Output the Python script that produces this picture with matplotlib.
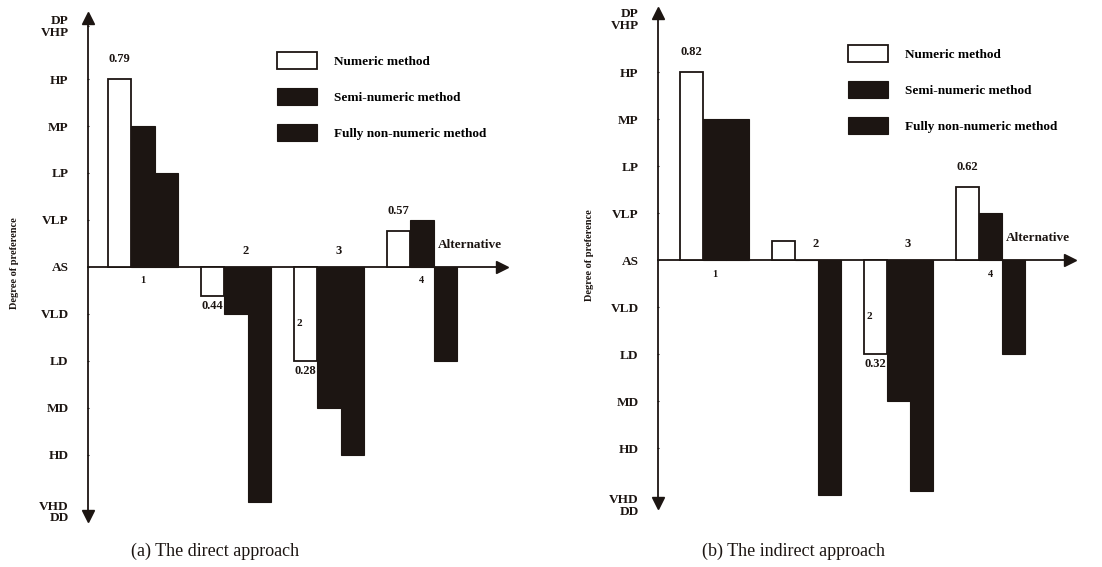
import matplotlib.pyplot as plt
import numpy as np

# Linguistic preference scale, AS (indifference) at zero
level_values = [-5.2, -4, -3, -2, -1, 0, 1, 2, 3, 4, 5.13]
level_labels = ['VHD\nDD', 'HD', 'MD', 'LD', 'VLD', 'AS', 'VLP', 'LP', 'MP', 'HP', 'DP\nVHP']

alternatives = [1, 2, 3, 4]
series_names = ['Numeric method', 'Semi-numeric method', 'Fully non-numeric method']

# (a) direct approach
direct_numeric = [4.0, -0.62, -2.0, 0.77]
direct_semi = [3.0, -1.0, -3.0, 1.0]
direct_fully = [2.0, -5.0, -4.0, -2.0]
direct_value_labels = ['0.79', '0.44', '0.28', '0.57']

# (b) indirect approach
indirect_numeric = [4.0, 0.4, -2.0, 1.55]
indirect_semi = [3.0, 0.0, -3.0, 1.0]
indirect_fully = [3.0, -5.0, -4.9, -2.0]
indirect_value_labels = ['0.82', '', '0.32', '0.62']

alt_label_side = ['below', 'above', 'above', 'below']

W, H = 1102, 567
SERIF = 'Liberation Serif'
INK = '#1c1512'


def px_axes(fig, x0, y0, x1, y1):
    return fig.add_axes([x0 / W, 1 - y1 / H, (x1 - x0) / W, (y1 - y0) / H])


def draw_panel(ax, numeric, semi, fully, value_labels, xlim, ylim, yaxis_x, arrow_y, legend_xy):
    x = np.array(alternatives, dtype=float)
    width = 0.25
    ax.bar(x - width, numeric, width, color='white', edgecolor=INK, linewidth=1.3,
           label=series_names[0], zorder=3)
    ax.bar(x, semi, width, color=INK, edgecolor=INK, linewidth=0.8,
           label=series_names[1], zorder=3)
    ax.bar(x + width, fully, width, color=INK, edgecolor=INK, linewidth=0.8,
           label=series_names[2], zorder=3)

    ax.set_xlim(*xlim)
    ax.set_ylim(*ylim)
    for side in ['top', 'right']:
        ax.spines[side].set_visible(False)
    ax.spines['left'].set_position(('data', yaxis_x))
    ax.spines['left'].set_bounds(-arrow_y[0], arrow_y[1])
    ax.spines['bottom'].set_position(('data', 0))
    ax.spines['bottom'].set_bounds(yaxis_x, 4.86)
    for side in ['left', 'bottom']:
        ax.spines[side].set_linewidth(1.3)
        ax.spines[side].set_color(INK)

    # arrow heads on both axes
    ax.plot([yaxis_x], [arrow_y[1]], marker='^', ms=8, color=INK, clip_on=False, zorder=4)
    ax.plot([yaxis_x], [-arrow_y[0]], marker='v', ms=8, color=INK, clip_on=False, zorder=4)
    ax.plot([4.86], [0], marker='>', ms=8, color=INK, clip_on=False, zorder=4)

    ax.set_xticks([])
    ax.set_yticks(level_values, level_labels)
    ax.tick_params(axis='y', length=2, direction='inout', pad=13, colors=INK)
    for t in ax.get_yticklabels():
        t.set_fontfamily(SERIF)
        t.set_fontweight('bold')
        t.set_fontsize(9.5)
        t.set_linespacing(0.95)

    ax.text(4.86, 0.35, 'Alternative', ha='right', va='bottom', fontsize=9.5,
            fontweight='bold', family=SERIF, color=INK)

    # alternative numbers on the side opposite the bars
    for xi, side in zip(x, alt_label_side):
        if side == 'below':
            ax.text(xi, -0.2, str(int(xi)), ha='center', va='top', fontsize=7.5,
                    fontweight='bold', family=SERIF, color=INK)
        else:
            ax.text(xi + 0.1, 0.22, str(int(xi)), ha='center', va='bottom', fontsize=9,
                    fontweight='bold', family=SERIF, color=INK)

    # numeric method values
    for xi, v, lab in zip(x, numeric, value_labels):
        if not lab:
            continue
        if v >= 0:
            ax.annotate(lab, (xi - width, v), xytext=(0, 10), textcoords='offset points',
                        ha='center', va='bottom', fontsize=9, fontweight='bold',
                        family=SERIF, color=INK)
        else:
            ax.annotate(lab, (xi - width, v), xytext=(0, -3), textcoords='offset points',
                        ha='center', va='top', fontsize=9, fontweight='bold',
                        family=SERIF, color=INK)
    # stray mark inside the third numeric bar
    ax.text(x[2] - width - 0.1, numeric[2] * 0.6, '2', ha='left', va='center', fontsize=8,
            fontweight='bold', family=SERIF, color=INK, zorder=4)

    ax.legend(loc='upper left', bbox_to_anchor=legend_xy, bbox_transform=ax.figure.transFigure,
              frameon=False, borderpad=0, borderaxespad=0, handlelength=3.0, handleheight=1.6,
              labelspacing=1.45, handletextpad=1.3,
              prop={'family': SERIF, 'weight': 'bold', 'size': 9.5})


fig = plt.figure(figsize=(W / 100, H / 100), dpi=100)

ax_a = px_axes(fig, 70, 10, 520, 530)
draw_panel(ax_a, direct_numeric, direct_semi, direct_fully, direct_value_labels,
           xlim=(0.215, 5.054), ylim=(-5.6, 5.47), yaxis_x=0.41, arrow_y=(5.3, 5.3),
           legend_xy=(277 / W, 1 - 52 / H))

ax_b = px_axes(fig, 640, 10, 1090, 530)
draw_panel(ax_b, indirect_numeric, indirect_semi, indirect_fully, indirect_value_labels,
           xlim=(0.19, 5.08), ylim=(-5.74, 5.32), yaxis_x=0.386, arrow_y=(5.17, 5.26),
           legend_xy=(848 / W, 1 - 45 / H))

fig.text(15 / W, 1 - 263 / H, 'Degree of preference', rotation=90, ha='center', va='center',
         fontsize=7.5, fontweight='bold', family=SERIF, color=INK)
fig.text(590 / W, 1 - 255 / H, 'Degree of preference', rotation=90, ha='center', va='center',
         fontsize=7.5, fontweight='bold', family=SERIF, color=INK)

fig.text(215 / W, 1 - 551 / H, '(a) The direct approach', ha='center', va='center',
         fontsize=13, family=SERIF, color=INK)
fig.text(794 / W, 1 - 551 / H, '(b) The indirect approach', ha='center', va='center',
         fontsize=13, family=SERIF, color=INK)

fig.savefig('out.png', dpi=100)
